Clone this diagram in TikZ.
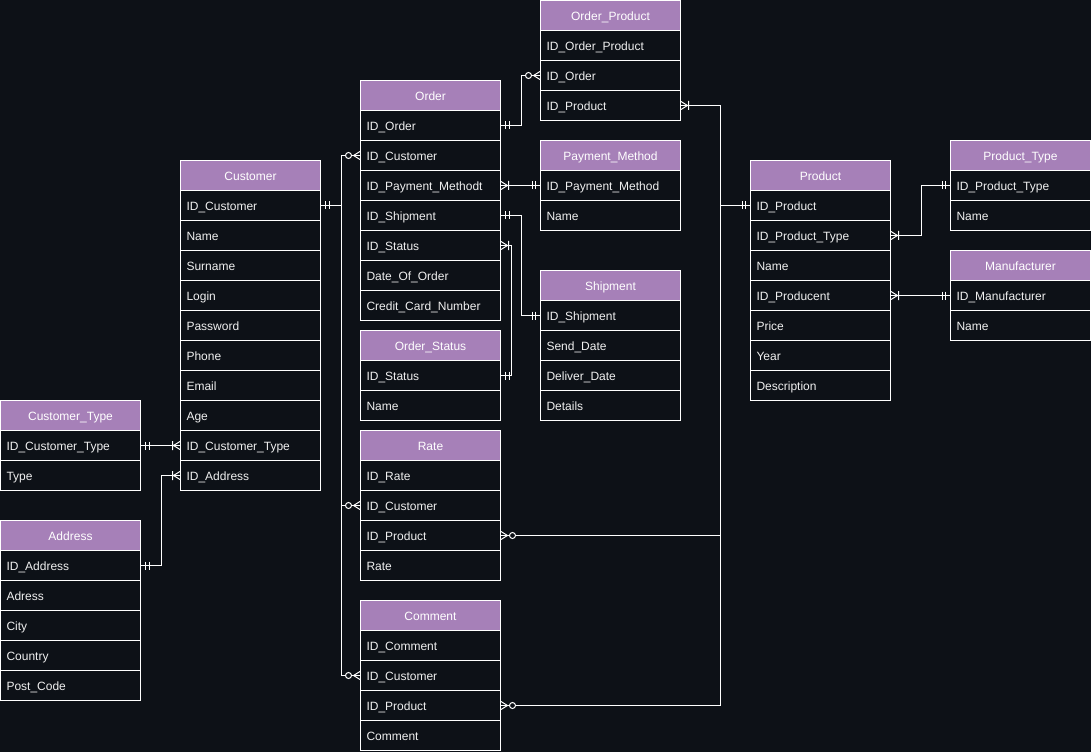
\documentclass[tikz,border=0pt]{standalone}
\usepackage{fontspec}
\setmainfont{Liberation Sans}
\definecolor{bg}{RGB}{13,17,23}
\definecolor{hdrfill}{RGB}{166,128,184}
\definecolor{txt}{RGB}{240,240,240}
\tikzset{
  hdr/.style={draw=white, line width=0.75pt, fill=hdrfill, text=white, minimum width=105pt, minimum height=22.5pt, inner sep=0pt, text height=8pt, text depth=1pt, font=\fontsize{9}{11}\selectfont},
  fld/.style={draw=white, line width=0.75pt, fill=bg, text=txt, text width=96pt, inner xsep=4.5pt, inner ysep=0pt, minimum height=22.5pt, align=left, text height=8pt, text depth=1pt, font=\fontsize{9}{11}\selectfont},
  conn/.style={draw=white, line width=0.75pt},
  mk/.style={draw=white, line width=0.75pt},
  mandone/.pic={\draw[mk] (4.5,-4) -- (4.5,4) (8,-4) -- (8,4);},
  onemany/.pic={\draw[mk] (0,-4) -- (6.5,0) -- (0,4) (7.5,-4.5) -- (7.5,4.5);},
  zeromany/.pic={\draw[mk] (0,-4) -- (6.5,0) -- (0,4); \draw[mk, fill=bg] (11.5,0) circle[radius=2.25pt];},
}
\newcommand\erTable[5]{%
  \node[hdr, anchor=north west] (#1) at (#2,#3) {#4};
  \foreach \t [count=\i] in {#5} {
    \node[fld, anchor=north west] (#1\i) at (#2,#3+30*\i) {\t};
  }%
}
\begin{document}
\begin{tikzpicture}[x=0.75pt, y=-0.75pt]
\fill[bg] (0,0) rectangle (1091,752);
\useasboundingbox (0,0) rectangle (1091,752);

\erTable{op}{540}{0}{Order\_Product}{ID\_Order\_Product, ID\_Order, ID\_Product}
\erTable{ord}{360}{80}{Order}{ID\_Order, ID\_Customer, ID\_Payment\_Methodt, ID\_Shipment, ID\_Status, Date\_Of\_Order, Credit\_Card\_Number}
\erTable{os}{360}{330}{Order\_Status}{ID\_Status, Name}
\erTable{rate}{360}{430}{Rate}{ID\_Rate, ID\_Customer, ID\_Product, Rate}
\erTable{com}{360}{600}{Comment}{ID\_Comment, ID\_Customer, ID\_Product, Comment}
\erTable{pay}{540}{140}{Payment\_Method}{ID\_Payment\_Method, Name}
\erTable{shp}{540}{270}{Shipment}{ID\_Shipment, Send\_Date, Deliver\_Date, Details}
\erTable{cus}{180}{160}{Customer}{ID\_Customer, Name, Surname, Login, Password, Phone, Email, Age, ID\_Customer\_Type, ID\_Address}
\erTable{ct}{0}{400}{Customer\_Type}{ID\_Customer\_Type, Type}
\erTable{adr}{0}{520}{Address}{ID\_Address, Adress, City, Country, Post\_Code}
\erTable{prd}{750}{160}{Product}{ID\_Product, ID\_Product\_Type, Name, ID\_Producent, Price, Year, Description}
\erTable{pt}{950}{140}{Product\_Type}{ID\_Product\_Type, Name}
\erTable{man}{950}{250}{Manufacturer}{ID\_Manufacturer, Name}

% connectors
\draw[conn] (ord1.east) -- ++(20,0) |- (op2.west);
\draw[conn] (prd1.west) -- ++(-30,0) |- (op3.east);
\draw[conn] (prd1.west) -- ++(-30,0) |- (rate3.east);
\draw[conn] (prd1.west) -- ++(-30,0) |- (com3.east);
\draw[conn] (cus1.east) -- ++(20,0) |- (ord2.west);
\draw[conn] (cus1.east) -- ++(20,0) |- (rate2.west);
\draw[conn] (cus1.east) -- ++(20,0) |- (com2.west);
\draw[conn] (ord3.east) -- (pay1.west);
\draw[conn] (ord4.east) -- ++(20,0) |- (shp1.west);
\draw[conn] (ord5.east) -- ++(10,0) |- (os1.east);
\draw[conn] (ct1.east) -- (cus9.west);
\draw[conn] (adr1.east) -- ++(20,0) |- (cus10.west);
\draw[conn] (prd2.east) -- ++(30,0) |- (pt1.west);
\draw[conn] (prd4.east) -- (man1.west);

% markers
\pic at (ord1.east) {mandone};
\pic[xscale=-1] at (op2.west) {zeromany};
\pic at (op3.east) {onemany};
\pic[xscale=-1] at (prd1.west) {mandone};
\pic at (rate3.east) {zeromany};
\pic at (com3.east) {zeromany};
\pic at (cus1.east) {mandone};
\pic[xscale=-1] at (ord2.west) {zeromany};
\pic[xscale=-1] at (rate2.west) {zeromany};
\pic[xscale=-1] at (com2.west) {zeromany};
\pic at (ord3.east) {onemany};
\pic[xscale=-1] at (pay1.west) {mandone};
\pic at (ord4.east) {mandone};
\pic[xscale=-1] at (shp1.west) {mandone};
\pic at (ord5.east) {onemany};
\pic at (os1.east) {mandone};
\pic at (ct1.east) {mandone};
\pic[xscale=-1] at (cus9.west) {onemany};
\pic at (adr1.east) {mandone};
\pic[xscale=-1] at (cus10.west) {onemany};
\pic at (prd2.east) {onemany};
\pic[xscale=-1] at (pt1.west) {mandone};
\pic at (prd4.east) {onemany};
\pic[xscale=-1] at (man1.west) {mandone};
\end{tikzpicture}
\end{document}
